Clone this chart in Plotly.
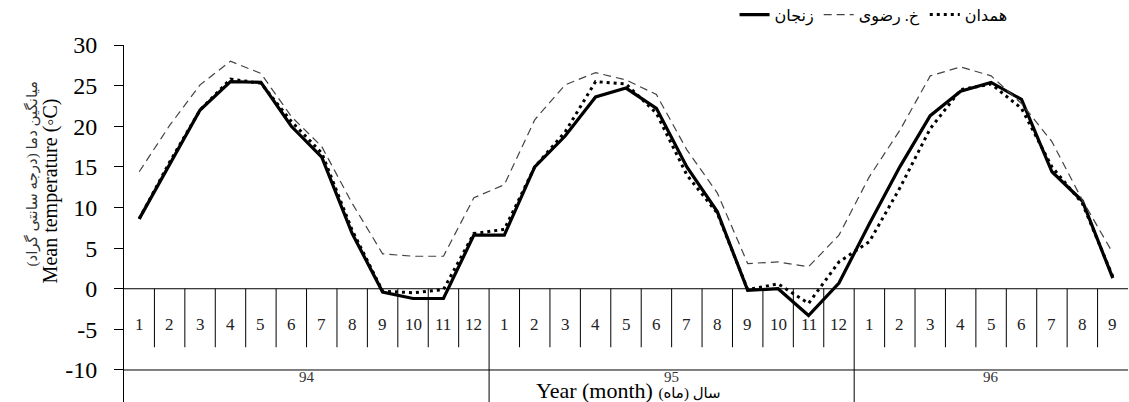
import plotly.graph_objects as go

years = ["94", "95", "96"]
months_per_year = [
    ["1", "2", "3", "4", "5", "6", "7", "8", "9", "10", "11", "12"],
    ["1", "2", "3", "4", "5", "6", "7", "8", "9", "10", "11", "12"],
    ["1", "2", "3", "4", "5", "6", "7", "8", "9"],
]

zanjan = [8.6, 15.4, 22.0, 25.5, 25.4, 20.0, 16.2, 6.8, -0.4, -1.2, -1.2, 6.6,
          6.6, 15.0, 18.8, 23.6, 24.7, 22.2, 15.0, 9.5, -0.2, 0.0, -3.3, 0.7,
          8.0, 15.0, 21.3, 24.3, 25.4, 23.3, 14.4, 10.8, 1.3]
khorasan = [14.4, 20.1, 25.1, 28.0, 26.5, 21.2, 17.5, 10.5, 4.3, 4.0, 4.0, 11.2,
            12.8, 20.8, 25.1, 26.6, 25.7, 23.9, 17.1, 11.8, 3.1, 3.3, 2.7, 6.6,
            13.8, 19.5, 26.2, 27.3, 26.2, 22.8, 18.1, 10.9, 4.4]
hamedan = [8.6, 15.6, 22.0, 25.8, 25.3, 20.6, 16.7, 7.2, -0.3, -0.5, -0.1, 6.8,
           7.3, 15.0, 19.3, 25.5, 25.2, 21.6, 14.0, 9.3, -0.1, 0.6, -1.8, 3.3,
           5.8, 12.4, 19.7, 24.5, 25.2, 22.2, 15.0, 10.5, 1.5]

series_names = ["زنجان", "خ. رضوی", "همدان"]
y_ticks = [-10, -5, 0, 5, 10, 15, 20, 25, 30]

SERIF = "Liberation Serif, Times New Roman, DejaVu Sans"

month_labels = [m for ms in months_per_year for m in ms]
n = len(month_labels)
xs = list(range(n))

fig = go.Figure()
fig.add_trace(go.Scatter(x=xs, y=zanjan, name=series_names[0], mode="lines",
                         line=dict(color="black", width=3.2)))
fig.add_trace(go.Scatter(x=xs, y=khorasan, name=series_names[1], mode="lines",
                         line=dict(color="#444444", width=1.2, dash="8px,5px")))
fig.add_trace(go.Scatter(x=xs, y=hamedan, name=series_names[2], mode="lines",
                         line=dict(color="black", width=3, dash="3px,4px")))

y_bottom = -13.94
label_y = -4.4
sep_bottom = -7.2

shapes = []
annotations = []
for yy in (0, -10):
    shapes.append(dict(type="line", xref="x", yref="y", x0=-0.5, x1=n - 0.5,
                       y0=yy, y1=yy, line=dict(color="black", width=1)))
for i, m in enumerate(month_labels):
    annotations.append(dict(x=i, y=label_y, xref="x", yref="y", text=m,
                            showarrow=False, font=dict(family=SERIF, size=17, color="#222")))
year_bounds = []
start = 0
for ms in months_per_year:
    year_bounds.append((start, start + len(ms)))
    start += len(ms)
boundary_set = set(b[1] for b in year_bounds[:-1])
for k in range(1, n):
    x = k - 0.5
    y1 = y_bottom if k in boundary_set else sep_bottom
    shapes.append(dict(type="line", xref="x", yref="y", x0=x, x1=x, y0=0, y1=y1,
                       line=dict(color="black", width=1)))
for yr, (a, b) in zip(years, year_bounds):
    annotations.append(dict(x=(a + b - 1) / 2, y=-10.9, xref="x", yref="y", text=yr,
                            showarrow=False, font=dict(family=SERIF, size=15, color="#333")))

annotations.append(dict(x=0.502, y=-12.5, xref="paper", yref="y", xanchor="center",
                        yanchor="middle",
                        text="Year (month) <span style='font-size:15px'>سال (ماه)</span>",
                        showarrow=False, font=dict(family=SERIF, size=22, color="black")))
annotations.append(dict(x=-0.0737, y=0.59, xref="paper", yref="paper", textangle=-90,
                        xanchor="center", yanchor="middle",
                        text="Mean temperature (◦C)", showarrow=False,
                        font=dict(family=SERIF, size=20, color="black")))
annotations.append(dict(x=-0.0926, y=0.64, xref="paper", yref="paper", textangle=-90,
                        xanchor="center", yanchor="middle",
                        text="میانگین دما (درجه سانتی گراد)", showarrow=False,
                        font=dict(family=SERIF, size=15, color="#333")))

fig.update_layout(
    width=1129, height=402,
    margin=dict(l=124, r=1, t=45, b=0, autoexpand=False),
    plot_bgcolor="white", paper_bgcolor="white",
    showlegend=True,
    legend=dict(orientation="h", x=0.885, xanchor="right", y=1.085, yanchor="middle",
                font=dict(family=SERIF, size=16, color="black"), bgcolor="rgba(0,0,0,0)",
                itemwidth=30),
    xaxis=dict(range=[-0.5, n - 0.5], showticklabels=False, showgrid=False,
               zeroline=False, showline=False, ticks=""),
    yaxis=dict(range=[y_bottom, 30], tickvals=y_ticks, ticktext=[str(v) for v in y_ticks],
               showgrid=False, zeroline=False, showline=True, linecolor="black", linewidth=1,
               ticks="outside", ticklen=9, tickcolor="black",
               tickfont=dict(family=SERIF, size=24, color="black"), ticklabelstandoff=12),
    shapes=shapes,
    annotations=annotations,
)

fig.write_html("out.html", config={"displayModeBar": False},
               post_script="document.body.style.margin='0';document.body.style.overflow='hidden';")
